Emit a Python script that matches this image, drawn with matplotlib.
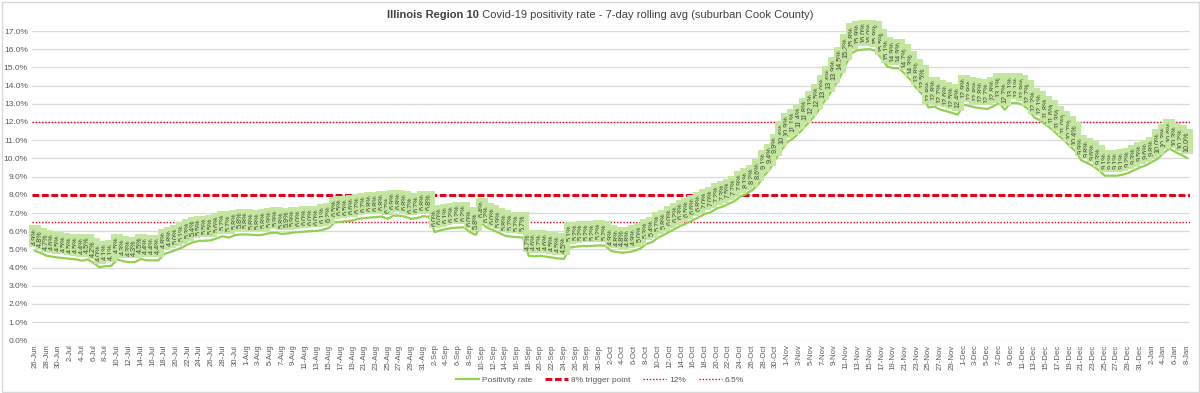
import matplotlib
matplotlib.use("Agg")
import matplotlib.pyplot as plt
from matplotlib.patches import Rectangle
from matplotlib import font_manager
import datetime as dt

# ---------------- data ----------------
start_date = dt.date(2020, 6, 26)
positivity = [
    4.92, 4.80, 4.65, 4.60, 4.55,                     # 26-30 Jun
    4.52, 4.48, 4.45, 4.38, 4.45, 4.25, 4.02, 4.08, 4.10, 4.45,
    4.35, 4.30, 4.30, 4.47, 4.40, 4.40, 4.40, 4.75, 4.85, 4.97,
    5.10, 5.28, 5.40, 5.47, 5.48, 5.50, 5.62, 5.72, 5.65, 5.78, 5.82,  # Jul
    5.82, 5.80, 5.78, 5.82, 5.90, 5.92, 5.85, 5.88, 5.93, 5.95,
    5.98, 6.00, 6.02, 6.08, 6.18, 6.48, 6.52, 6.55, 6.58, 6.68,
    6.72, 6.75, 6.78, 6.80, 6.68, 6.86, 6.85, 6.80, 6.68, 6.72, 6.82,  # Aug
    6.80, 5.95, 6.05, 6.12, 6.18, 6.20, 6.22, 5.95, 5.80, 6.42,
    6.18, 6.05, 5.90, 5.75, 5.70, 5.68, 5.65, 4.65, 4.62, 4.65,
    4.60, 4.55, 4.50, 4.48, 5.10, 5.15, 5.18, 5.18, 5.20, 5.22,        # Sep
    5.20, 4.92, 4.85, 4.82, 4.85, 4.92, 5.05, 5.30, 5.40, 5.65,
    5.80, 5.98, 6.15, 6.32, 6.45, 6.62, 6.78, 6.95, 7.05, 7.25,
    7.35, 7.50, 7.65, 7.90, 8.05, 8.25, 8.55, 9.05, 9.40, 9.95, 10.45, # Oct
    10.90, 11.10, 11.40, 11.75, 12.10, 12.50, 13.00, 13.45, 13.95, 14.50,
    15.20, 15.80, 15.95, 15.98, 16.00, 15.92, 15.50, 15.05, 14.95, 14.95,
    14.65, 14.30, 13.85, 13.50, 12.80, 12.85, 12.68, 12.60, 12.50, 12.40,  # Nov
    12.95, 12.88, 12.80, 12.75, 12.72, 12.85, 13.05, 12.68, 13.05, 13.05,
    12.95, 12.70, 12.25, 12.10, 11.85, 11.60, 11.30, 11.03, 10.70, 10.40,
    9.90, 9.75, 9.58, 9.35, 9.05, 9.05, 9.05, 9.10, 9.20, 9.35, 9.50,  # Dec
    9.62, 9.80, 9.98, 10.30, 10.55, 10.35, 10.20, 10.02,               # Jan
]
dates = [start_date + dt.timedelta(days=k) for k in range(len(positivity))]
date_labels = [f"{d.day}-{d.strftime('%b')}" for d in dates]
trigger_level = 8.0
upper_level = 12.0
lower_level = 6.5
y_ticks = list(range(0, 18))
title_bold = "Illinois Region 10"
title_rest = " Covid-19 positivity rate - 7-day rolling avg (suburban Cook County)"

# ---------------- fonts ----------------
available = {f.name for f in font_manager.fontManager.ttflist}
narrow = "Liberation Sans Narrow" if "Liberation Sans Narrow" in available else "Liberation Sans"
plt.rcParams["font.family"] = [narrow, "DejaVu Sans"]

# ---------------- figure ----------------
W, H = 1200, 393
fig = plt.figure(figsize=(W / 100, H / 100), dpi=100)
ax = fig.add_axes([32 / W, 1 - 340.4 / H, (1190 - 32) / W, (340.4 - 31) / H])

x = list(range(len(positivity)))
line_green = "#92D050"
label_fill = "#C4E6A0"
red = "#E3001B"

ax.plot(x, positivity, color=line_green, lw=1.6, zorder=3, label="Positivity rate")

ax.axhline(trigger_level, color=red, lw=2.2, linestyle=(0, (2.2, 0.9)), zorder=2,
           label="8% trigger point")
ax.axhline(upper_level, color=red, lw=1.0, linestyle=(0, (1, 1.3)), zorder=2, label="12%")
ax.axhline(lower_level, color=red, lw=1.0, linestyle=(0, (1, 1.3)), zorder=2, label="6.5%")

for xi, v in zip(x, positivity):
    ax.annotate(f"{v:.1f}%", (xi, v), xytext=(0, 4.5), textcoords="offset points",
                rotation=90, ha="center", va="bottom", fontsize=5.2, color="#3d4a33",
                zorder=4,
                bbox=dict(boxstyle="square,pad=0.35", facecolor=label_fill,
                          edgecolor="none"))

ax.set_xlim(-0.5, len(positivity) - 0.5)
ax.set_ylim(0, 17)
ax.set_yticks(y_ticks)
ax.set_yticklabels([f"{t:.1f}%" for t in y_ticks], fontsize=6, color="#595959")
ax.set_xticks(x[::2])
ax.set_xticklabels(date_labels[::2], rotation=90, fontsize=5.6, color="#595959")
ax.tick_params(axis="both", length=0, pad=3)
ax.grid(axis="y", color="#D9D9D9", lw=0.9, zorder=0)
ax.set_axisbelow(True)
for s in ax.spines.values():
    s.set_visible(False)

leg = fig.legend(loc="center", bbox_to_anchor=(0.5, 1 - 380 / H), ncol=4, frameon=False,
                 fontsize=6, handlelength=2.8, columnspacing=1.5, handletextpad=0.35,
                 labelcolor="#595959")

# ---------------- title (bold + regular pieces) ----------------
title_y = 1 - 15 / H
t1 = fig.text(0, title_y, title_bold, fontsize=8, fontweight="bold", color="#404040",
              ha="left", va="center")
t2 = fig.text(0, title_y, title_rest, fontsize=8, color="#404040", ha="left", va="center")
fig.canvas.draw()
r = fig.canvas.get_renderer()
w1 = t1.get_window_extent(r).width
w2 = t2.get_window_extent(r).width
total = w1 + w2
x0 = (600 - total / 2) / W
t1.set_x(x0)
t2.set_x(x0 + w1 / W)

fig.add_artist(Rectangle((1.5 / W, 1.5 / H), 1 - 3 / W, 1 - 3 / H, transform=fig.transFigure,
                         fill=False, edgecolor="#D9D9D9", lw=1))

fig.savefig("out.png", dpi=100)
